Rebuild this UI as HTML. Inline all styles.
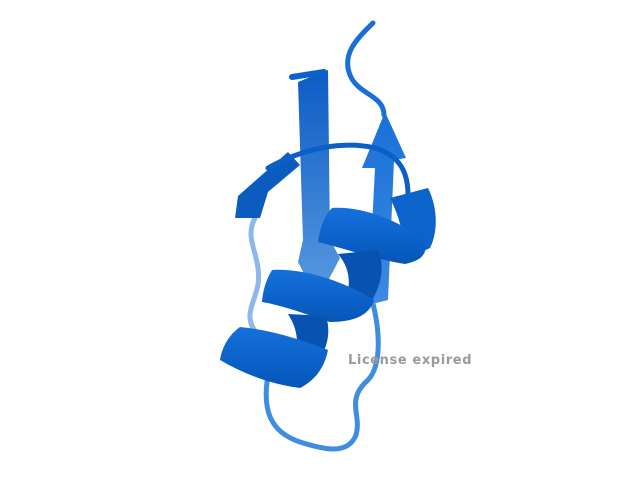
<!DOCTYPE html>
<html><head><meta charset="utf-8"><style>
html,body{margin:0;padding:0;background:#fff;width:640px;height:480px;overflow:hidden}
svg{display:block}
</style></head><body>
<svg width="640" height="480" viewBox="0 0 640 480">
<defs>
<linearGradient id="sg" x1="0" y1="0" x2="0" y2="1"><stop offset="0" stop-color="#0b5cc4"/><stop offset="1" stop-color="#5a9ae0"/></linearGradient>
<linearGradient id="sg2" x1="0" y1="0" x2="0" y2="1"><stop offset="0" stop-color="#1a70d8"/><stop offset="1" stop-color="#3c8ae2"/></linearGradient>
<linearGradient id="hx" x1="0" y1="0" x2="0" y2="1"><stop offset="0" stop-color="#1570dc"/><stop offset="1" stop-color="#0556b8"/></linearGradient>
</defs>
<path d="M255,218 C243,240 262,255 258,285 C254,305 240,320 262,338 C275,348 290,350 300,346" fill="none" stroke="#8cb8ea" stroke-width="5" stroke-linecap="round"/>
<path d="M268,375 C262,410 270,432 300,442 C325,450 348,455 356,435 C362,415 345,400 368,380 C382,365 380,330 372,300" fill="none" stroke="#3f8de0" stroke-width="5" stroke-linecap="round"/>
<polygon points="385,112 406,158 394,160 388,300 368,305 375,168 362,168" fill="url(#sg2)"/>
<polygon points="298,82 328,70 330,240 340,258 318,300 298,262 303,240" fill="url(#sg)"/>
<path d="M292,77 L324,72" stroke="#0b62cc" stroke-width="6" stroke-linecap="round"/>
<polygon points="235,218 238,196 288,152 300,165 268,192 260,218" fill="#0c5cbf"/>
<path d="M373,23 C355,40 342,55 350,75 C358,95 384,95 384,115" fill="none" stroke="#1a6fd6" stroke-width="5" stroke-linecap="round"/>
<path d="M268,168 C300,150 340,140 375,148 C398,155 408,170 408,195" fill="none" stroke="#0b5fc6" stroke-width="5" stroke-linecap="round"/>
<path d="M390,198 L428,188 C438,208 438,232 430,248 L405,260 C405,238 400,218 390,198 Z" fill="#0b63cc"/>
<path d="M318,242 C320,228 324,216 332,208 C362,206 398,220 424,240 C428,252 424,260 405,264 C378,260 350,250 318,242 Z" fill="url(#hx)"/>
<path d="M338,254 L378,250 C386,268 380,292 366,308 L344,302 C352,285 350,268 338,254 Z" fill="#0852b0"/>
<path d="M262,302 C263,290 266,280 272,270 C305,268 345,282 374,300 C370,314 356,322 330,322 C305,314 285,306 262,302 Z" fill="url(#hx)"/>
<path d="M288,314 L326,316 C332,335 326,354 312,368 L292,362 C300,345 298,330 288,314 Z" fill="#0852b0"/>
<path d="M220,360 C222,346 230,334 240,327 C272,330 302,340 328,350 C325,366 316,380 300,388 C270,384 244,374 220,360 Z" fill="url(#hx)"/>
<text x="348" y="364" font-family="'DejaVu Sans','Liberation Sans',sans-serif" font-size="13" font-weight="bold" letter-spacing="0.6" fill="#9a9a9a">License expired</text>
</svg>
</body></html>
